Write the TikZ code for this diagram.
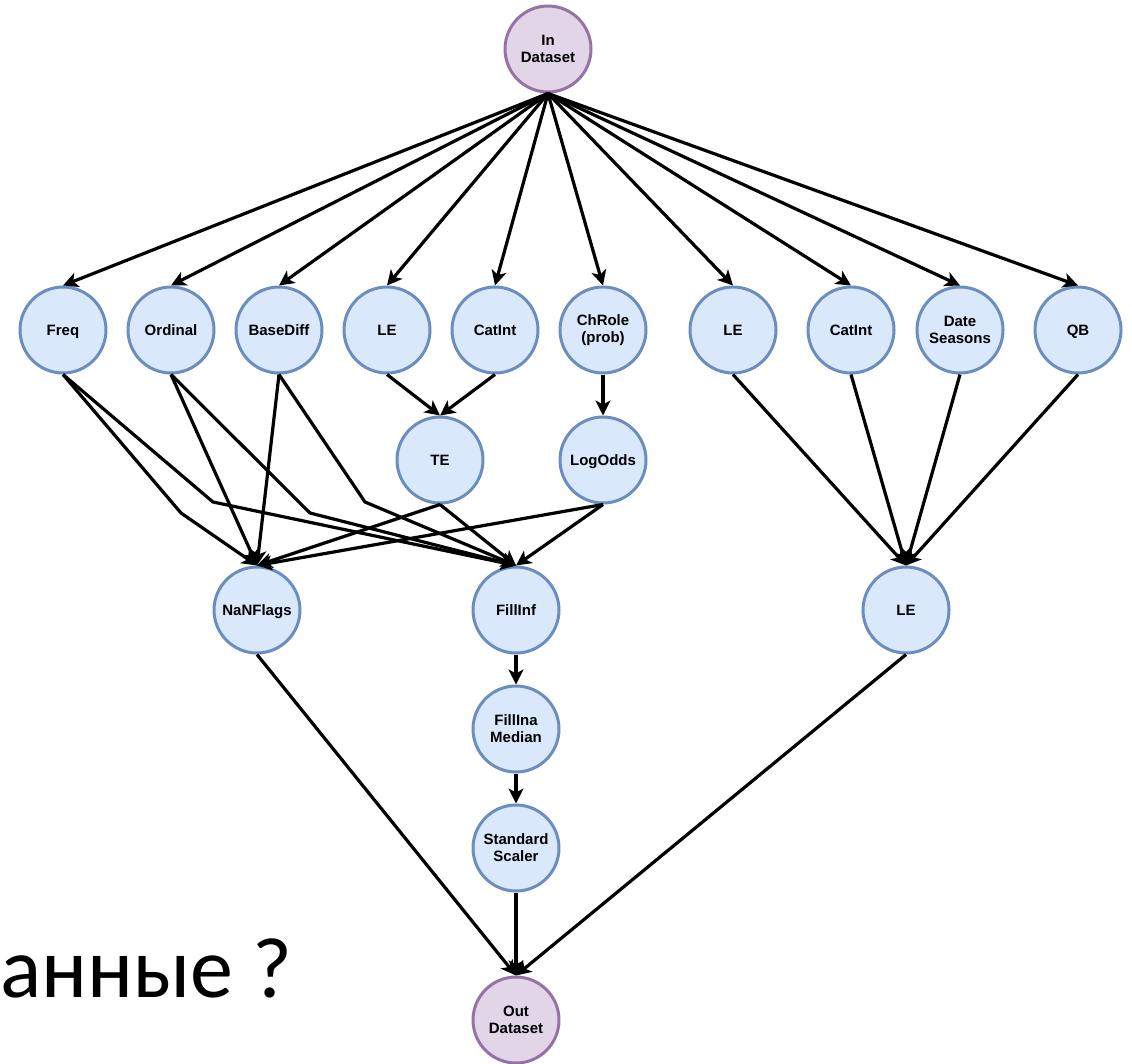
\documentclass[tikz,border=0pt]{standalone}
\usepackage{fontspec}
\setmainfont{Liberation Sans}
\newfontfamily\bigfont{Carlito}
\usetikzlibrary{arrows.meta}

\definecolor{bluefill}{HTML}{DAE8FC}
\definecolor{bluedraw}{HTML}{6C8EBF}
\definecolor{purplefill}{HTML}{E1D5E7}
\definecolor{purpledraw}{HTML}{9673A6}

\tikzset{
  stage/.style={circle, minimum size=86pt, inner sep=0pt, line width=3pt,
    draw=bluedraw, fill=bluefill, font=\fontsize{15}{17}\selectfont\bfseries,
    align=center, text=black},
  oneline/.style={text height=11pt, text depth=0pt},
  io/.style={stage, draw=purpledraw, fill=purplefill},
  flow/.style={line width=3.2pt, -{Stealth[length=15pt, width=15pt, inset=4pt]}}
}

\begin{document}
\begin{tikzpicture}[x=1pt, y=-1pt]
\useasboundingbox (0,0) rectangle (1132,1063);

% source
\node[io] (in) at (548,49) {In\\Dataset};

% first row of transformers
\node[stage, oneline] (freq)  at (63,330)   {Freq};
\node[stage, oneline] (ord)   at (171,330)  {Ordinal};
\node[stage, oneline] (bdiff) at (279,330)  {BaseDiff};
\node[stage, oneline] (le1)   at (387,330)  {LE};
\node[stage, oneline] (cat1)  at (495,330)  {CatInt};
\node[stage]          (chr)   at (603,330)  {ChRole\\(prob)};
\node[stage, oneline] (le2)   at (733,330)  {LE};
\node[stage, oneline] (cat2)  at (851,330)  {CatInt};
\node[stage]          (date)  at (960,330)  {Date\\Seasons};
\node[stage, oneline] (qb)    at (1078,330) {QB};

% second row
\node[stage, oneline] (te)    at (440,460)  {TE};
\node[stage, oneline] (lodds) at (603,460)  {LogOdds};

% third row
\node[stage, oneline] (nan)   at (257,610)  {NaNFlags};
\node[stage, oneline] (finf)  at (516,610)  {FillInf};
\node[stage, oneline] (le3)   at (906,610)  {LE};

% numeric chain
\node[stage] (fmed)  at (516,729)  {FillIna\\Median};
\node[stage] (std)   at (516,848)  {Standard\\Scaler};

% sink
\node[io] (out) at (516,1020) {Out\\Dataset};

% caption fragment
\node[anchor=base west, inner sep=0pt, font=\bigfont\fontsize{86}{95}\selectfont]
  (cap) at (0,997) {анные ?};

% fan-out from the source
\foreach \t in {freq,ord,bdiff,le1,cat1,chr,le2,cat2,date,qb}
  \draw[flow] (in.south) -- (\t.north);

% categorical branch
\draw[flow] (le1.south) -- (te.north);
\draw[flow] (cat1.south) -- (te.north);
\draw[flow] (chr.south) -- (lodds.north);

% into NaNFlags
\draw[flow] (freq.south) -- (181,513) -- (nan.north);
\draw[flow] (ord.south) -- (nan.north);
\draw[flow] (bdiff.south) -- (nan.north);
\draw[flow] (te.south) -- (nan.north);
\draw[flow] (lodds.south) -- (nan.north);

% into FillInf
\draw[flow] (freq.south) -- (213,502) -- (finf.north);
\draw[flow] (ord.south) -- (310,513) -- (finf.north);
\draw[flow] (bdiff.south) -- (365,502) -- (finf.north);
\draw[flow] (te.south) -- (finf.north);
\draw[flow] (lodds.south) -- (finf.north);

% into the right LE
\foreach \s in {le2,cat2,date,qb}
  \draw[flow] (\s.south) -- (le3.north);

% numeric chain
\draw[flow] (finf) -- (fmed);
\draw[flow] (fmed) -- (std);
\draw[flow] (std) -- (out);

% into the sink
\draw[flow] (nan.south) -- (out.north);
\draw[flow] (le3.south) -- (out.north);
\end{tikzpicture}
\end{document}
